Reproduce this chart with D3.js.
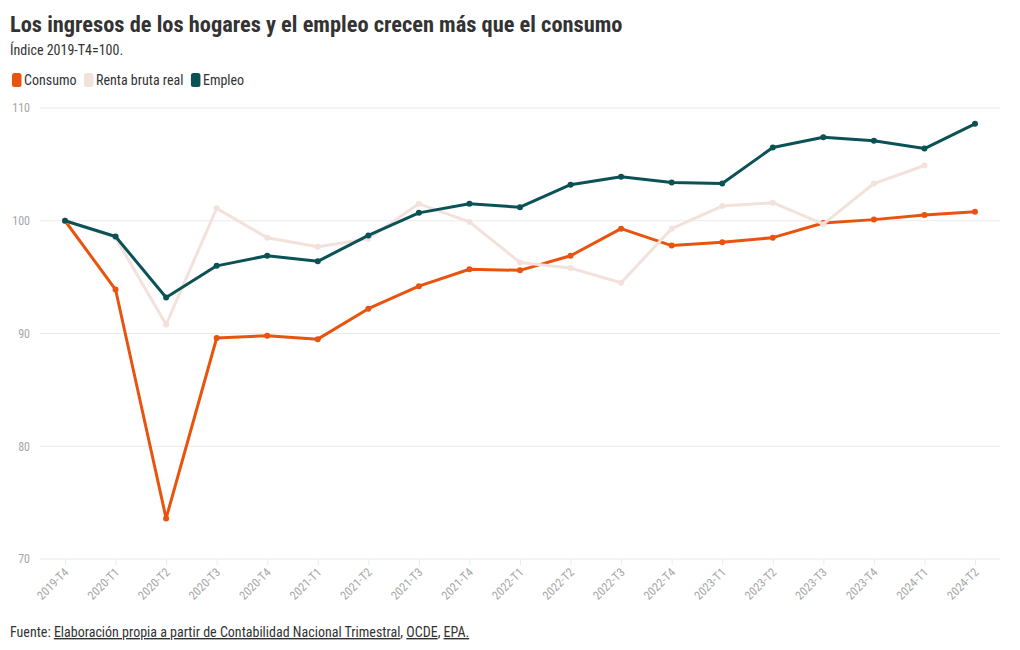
<!DOCTYPE html>
<html>
<head>
<meta charset="utf-8">
<script src="https://cdn.jsdelivr.net/npm/d3@7"></script>
<style>
  html, body { margin: 0; padding: 0; background: #fff; }
  body { width: 1020px; height: 650px; overflow: hidden; font-family: "Roboto Condensed", "Liberation Sans Narrow", "DejaVu Sans Condensed", Roboto, sans-serif; }
  svg text { font-family: "Roboto Condensed", "Liberation Sans Narrow", "DejaVu Sans Condensed", Roboto, sans-serif; }
</style>
</head>
<body>
<svg id="chart" width="1020" height="650"></svg>
<script>
const categories = ["2019-T4","2020-T1","2020-T2","2020-T3","2020-T4","2021-T1","2021-T2","2021-T3","2021-T4","2022-T1","2022-T2","2022-T3","2022-T4","2023-T1","2023-T2","2023-T3","2023-T4","2024-T1","2024-T2"];
const consumo = [100, 93.9, 73.6, 89.6, 89.8, 89.5, 92.2, 94.2, 95.7, 95.6, 96.9, 99.3, 97.8, 98.1, 98.5, 99.8, 100.1, 100.5, 100.8];
const renta   = [100, 98.5, 90.8, 101.1, 98.5, 97.7, 98.4, 101.5, 99.9, 96.3, 95.8, 94.5, 99.3, 101.3, 101.6, 99.7, 103.3, 104.9, null];
const empleo  = [100, 98.6, 93.2, 96.0, 96.9, 96.4, 98.7, 100.7, 101.5, 101.2, 103.2, 103.9, 103.4, 103.3, 106.5, 107.4, 107.1, 106.4, 108.6];
const yTicks = [70, 80, 90, 100, 110];
const seriesNames = ["Consumo", "Renta bruta real", "Empleo"];
const seriesColors = ["#e8540e", "#f3e2dc", "#0b5256"];

const FONT = '"Roboto Condensed", "Liberation Sans Narrow", "DejaVu Sans Condensed", Roboto, sans-serif';
const svg = d3.select("#chart");

// Title, subtitle
svg.append("text").attr("x", 10).attr("y", 32)
  .style("font-size", "22.4px").style("font-weight", "700").style("fill", "#333")
  .text("Los ingresos de los hogares y el empleo crecen más que el consumo");
svg.append("text").attr("x", 10).attr("y", 55)
  .style("font-size", "14px").style("fill", "#333")
  .text("Índice 2019-T4=100.");

// Legend
const legend = svg.append("g").attr("transform", "translate(12,72)");
let lx = 0;
seriesNames.forEach((n, i) => {
  const g = legend.append("g").attr("transform", `translate(${lx},0)`);
  g.append("rect").attr("x", 0).attr("y", 1).attr("width", 9.5).attr("height", 14).attr("rx", 2.5)
    .attr("fill", seriesColors[i]);
  const t = g.append("text").attr("x", 12).attr("y", 13)
    .style("font-size", "14px").style("fill", "#333").text(n);
  lx += 12 + t.node().getComputedTextLength() + 7.5;
});

// Scales
const x = d3.scalePoint().domain(categories).range([65, 975]);
const y = d3.scaleLinear().domain([70, 110]).range([559, 108]);

// Grid
const grid = svg.append("g");
grid.selectAll("line").data(yTicks).join("line")
  .attr("x1", 40).attr("x2", 1000)
  .attr("y1", d => y(d)).attr("y2", d => y(d))
  .attr("stroke", "#ebebeb").attr("stroke-width", 1);

// Y axis labels
const yAxis = svg.append("g").attr("transform", "translate(30,0)")
  .call(d3.axisLeft(y).tickValues(yTicks).tickSize(0).tickPadding(0));
yAxis.select(".domain").remove();
yAxis.selectAll("text").style("font-size", "12px").style("fill", "#a6a6a6")
  .style("font-family", FONT);

// X axis
const xAxis = svg.append("g").attr("transform", `translate(0,${y(70)})`)
  .call(d3.axisBottom(x).tickSize(6).tickPadding(4));
xAxis.select(".domain").remove();
xAxis.selectAll(".tick line").attr("stroke", "#ebebeb");
xAxis.selectAll("text")
  .style("font-size", "12px").style("fill", "#a6a6a6")
  .style("font-family", FONT)
  .attr("text-anchor", "end")
  .attr("y", 0)
  .attr("dy", "0.35em")
  .attr("transform", "translate(1,11) rotate(-45)");

// Lines
const allSeries = [consumo, renta, empleo];
const line = d3.line()
  .defined(d => d != null)
  .x((d, i) => x(categories[i]))
  .y(d => y(d));

allSeries.forEach((vals, si) => {
  const g = svg.append("g");
  g.append("path").datum(vals)
    .attr("d", line)
    .attr("fill", "none")
    .attr("stroke", seriesColors[si])
    .attr("stroke-width", 3)
    .attr("stroke-linejoin", "round");
  g.selectAll("circle").data(vals.map((v, i) => ({v, i})).filter(d => d.v != null)).join("circle")
    .attr("cx", d => x(categories[d.i]))
    .attr("cy", d => y(d.v))
    .attr("r", 3)
    .attr("fill", seriesColors[si]);
});

// Source
const src = svg.append("text").attr("x", 10).attr("y", 637)
  .style("font-size", "14px").style("fill", "#333");
src.append("tspan").text("Fuente: ");
src.append("tspan").style("text-decoration", "underline").text("Elaboración propia a partir de Contabilidad Nacional Trimestral");
src.append("tspan").text(", ");
src.append("tspan").style("text-decoration", "underline").text("OCDE");
src.append("tspan").text(", ");
src.append("tspan").style("text-decoration", "underline").text("EPA.");
</script>
</body>
</html>
